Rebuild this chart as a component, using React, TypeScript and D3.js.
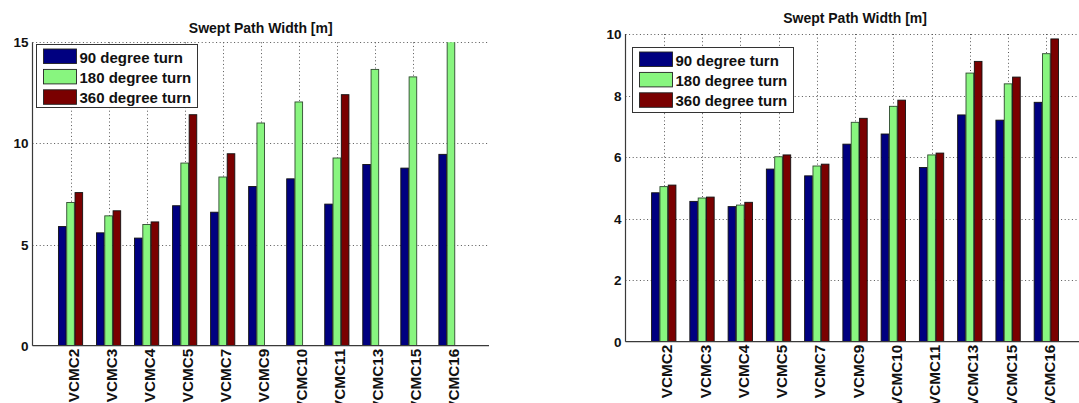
import React from "react";
import * as d3 from "d3";

const categories = ["VCMC2","VCMC3","VCMC4","VCMC5","VCMC7","VCMC9","VCMC10","VCMC11","VCMC13","VCMC15","VCMC16"];
const seriesNames = ["90 degree turn","180 degree turn","360 degree turn"];
const colors = ["#000080","#88f57f","#7a0000"];

// Left panel values
const left90 = [5.89,5.58,5.32,6.92,6.6,7.87,8.25,7.0,8.96,8.78,9.46];
const left180 = [7.08,6.42,5.99,9.03,8.34,11.01,12.05,9.28,13.66,13.29,15.6];
const left360: (number|null)[] = [7.57,6.67,6.12,11.42,9.49,null,null,12.41,null,null,null];
const leftTicks = [0,5,10,15];

// Right panel values
const right90 = [4.84,4.56,4.39,5.61,5.39,6.42,6.75,5.66,7.37,7.2,7.78];
const right180 = [5.04,4.67,4.44,6.01,5.71,7.13,7.65,6.07,8.73,8.38,9.36];
const right360 = [5.09,4.70,4.53,6.07,5.77,7.26,7.85,6.13,9.11,8.6,9.84];
const rightTicks = [0,2,4,6,8,10];

const title = "Swept Path Width [m]";
const FONT = "'Liberation Sans', Arial, Helvetica, sans-serif";

type PanelProps = {
  id: string;
  x0: number; x1: number; yTop: number; yBot: number;
  yMax: number; ticks: number[];
  series: (number|null)[][];
  titleY: number;
  legend: { x: number; y: number; w: number; h: number };
};

function Panel(p: PanelProps) {
  const x = d3.scaleLinear().domain([0, 12]).range([p.x0, p.x1]);
  const y = d3.scaleLinear().domain([0, p.yMax]).range([p.yBot, p.yTop]);
  const unit = x(1) - x(0);
  const bw = 0.2 * unit;
  const offs = [-0.218, 0, 0.218];
  const clipId = "clip-" + p.id;
  const grid = { stroke: "#555", strokeWidth: 1, strokeDasharray: "1,2.6" };
  return (
    <g>
      <defs>
        <clipPath id={clipId}>
          <rect x={p.x0} y={p.yTop} width={p.x1 - p.x0} height={p.yBot - p.yTop} />
        </clipPath>
      </defs>
      {/* grid */}
      {p.ticks.filter(t => t > 0).map(t => (
        <line key={"h" + t} x1={p.x0} x2={p.x1} y1={Math.round(y(t)) + 0.5} y2={Math.round(y(t)) + 0.5} style={grid} />
      ))}
      {categories.map((c, i) => (
        <line key={"v" + c} x1={Math.round(x(i + 1)) + 0.5} x2={Math.round(x(i + 1)) + 0.5} y1={p.yTop} y2={p.yBot} style={grid} />
      ))}
      {/* bars */}
      <g clipPath={`url(#${clipId})`}>
        {p.series.map((vals, s) =>
          vals.map((v, i) =>
            v == null ? null : (
              <rect key={s + "-" + i}
                x={x(i + 1 + offs[s]) - bw / 2}
                y={y(v)}
                width={bw}
                height={y(0) - y(v)}
                fill={colors[s]}
                stroke={s === 1 ? "#2f4a2f" : "#111"}
                strokeWidth={0.9} />
            )
          )
        )}
      </g>
      {/* axes */}
      <line x1={p.x0} x2={p.x1} y1={p.yBot} y2={p.yBot} stroke="#3a3a3a" strokeWidth={1.2} />
      <line x1={p.x0} x2={p.x0} y1={p.yTop} y2={p.yBot} stroke="#3a3a3a" strokeWidth={1.2} />
      {p.ticks.map(t => (
        <text key={"yt" + t} x={p.x0 - 4} y={y(t) + 5} textAnchor="end"
          fontFamily={FONT} fontWeight="bold" fontSize={13.5} fill="#111">{t}</text>
      ))}
      {categories.map((c, i) => {
        const cx = x(i + 1) + 8.5;
        const cy = p.yBot + 3;
        return (
          <text key={"xl" + c} transform={`translate(${cx},${cy}) rotate(-90)`} textAnchor="end"
            fontFamily={FONT} fontWeight="bold" fontSize={15.3} fill="#111">{c}</text>
        );
      })}
      {/* title */}
      <text x={(p.x0 + p.x1) / 2} y={p.titleY} textAnchor="middle" fontFamily={FONT}
        fontWeight="bold" fontSize={14} fill="#111">{title}</text>
      {/* legend */}
      <rect x={p.legend.x} y={p.legend.y} width={p.legend.w} height={p.legend.h}
        fill="#fff" stroke="#333" strokeWidth={1} />
      {seriesNames.map((n, s) => (
        <g key={n}>
          <rect x={p.legend.x + 7} y={p.legend.y + 4.5 + s * 20.4} width={33} height={14.5}
            fill={colors[s]} stroke="#222" strokeWidth={0.9} />
          <text x={p.legend.x + 43} y={p.legend.y + 18 + s * 20.4} fontFamily={FONT}
            fontWeight="bold" fontSize={15} fill="#111">{n}</text>
        </g>
      ))}
    </g>
  );
}

export default function App() {
  return (
    <svg width={1079} height={403} style={{ position: "absolute", left: 0, top: 0, background: "#fff" }}>
      <rect width={1079} height={403} fill="#fff" />
      <Panel id="l" x0={32.5} x1={489} yTop={42.3} yBot={345.7} yMax={15} ticks={leftTicks}
        series={[left90, left180, left360]} titleY={33.3}
        legend={{ x: 36.5, y: 44.5, w: 161, h: 63 }} />
      <Panel id="r" x0={625.5} x1={1084.6} yTop={34} yBot={341.7} yMax={10} ticks={rightTicks}
        series={[right90, right180, right360]} titleY={22.7}
        legend={{ x: 632.5, y: 47.5, w: 161, h: 65 }} />
    </svg>
  );
}
